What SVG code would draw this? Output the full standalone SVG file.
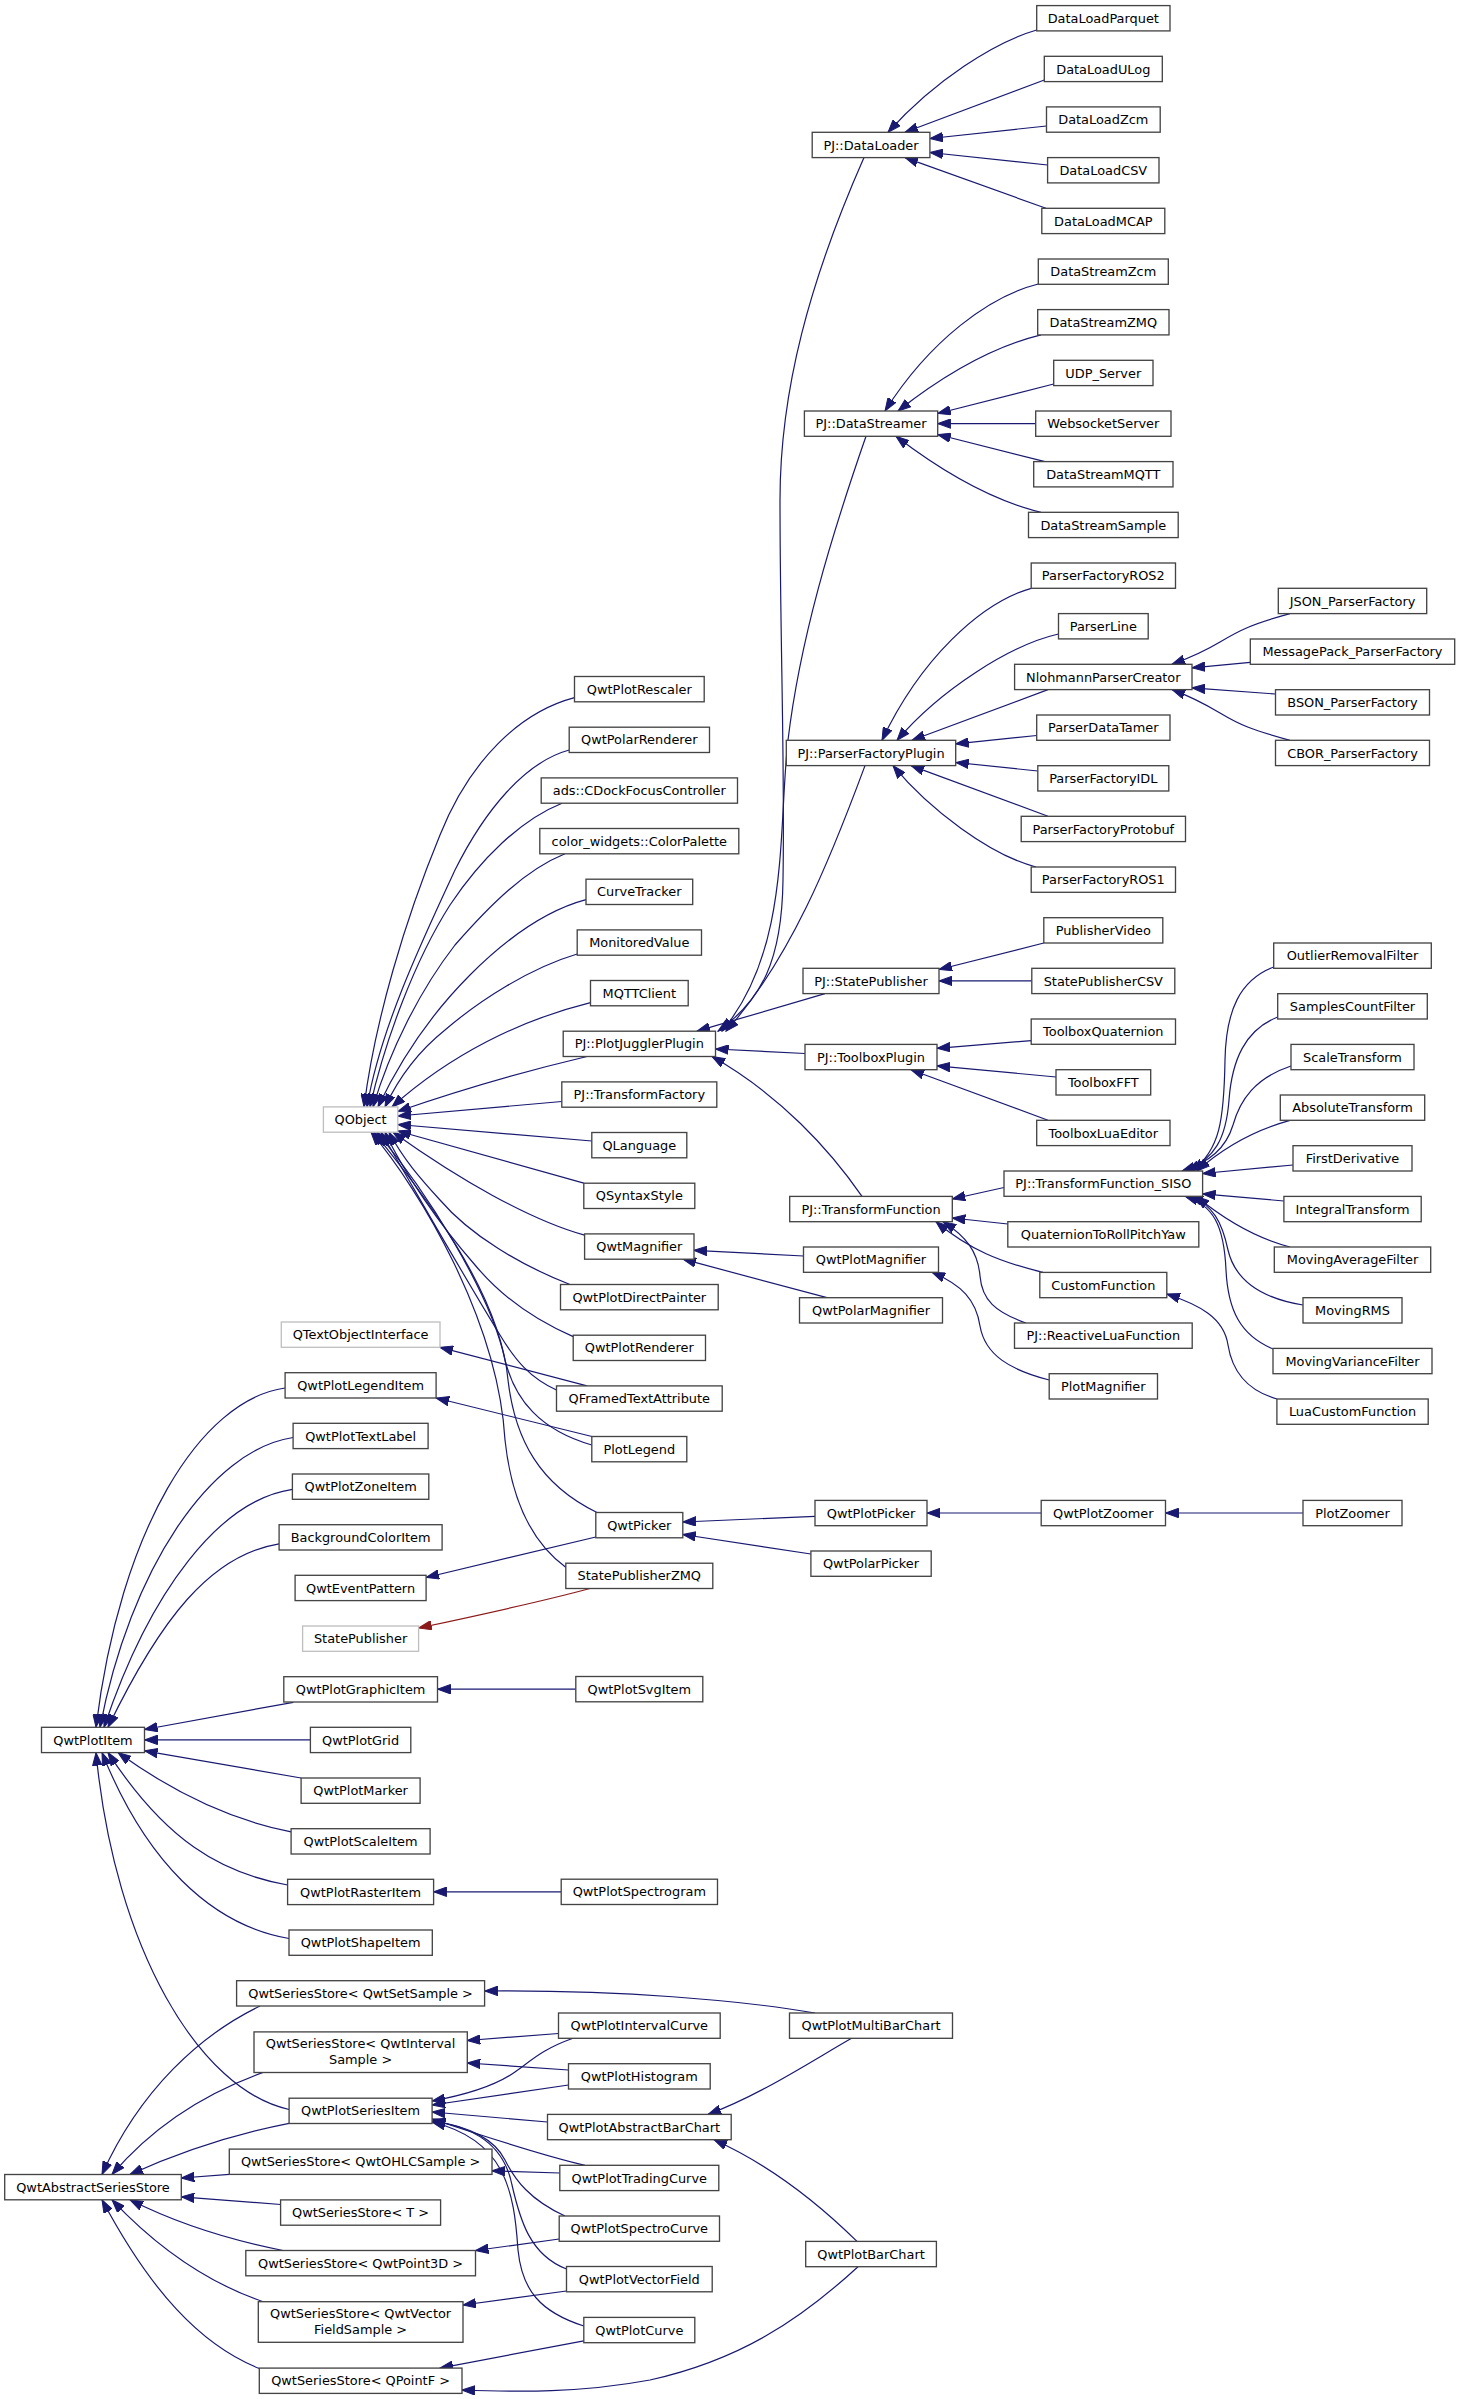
<svg xmlns="http://www.w3.org/2000/svg" width="1460" height="2399" viewBox="0 0 1460 2399">
<style>
.n rect{fill:#fff;stroke:#444;stroke-width:1.33}
.x rect{fill:#fff;stroke:#bfbfbf;stroke-width:1.33}
text{font-family:"DejaVu Sans",sans-serif;font-size:12.9px;text-anchor:middle;fill:#000}
#edges path{fill:none;stroke:#191970;stroke-width:1.2;marker-end:url(#a)}
#edges path.r{stroke:#8b1a1a;marker-end:url(#ar)}
</style>
<defs>
<marker id="a" markerUnits="userSpaceOnUse" markerWidth="14" markerHeight="10" refX="13" refY="5" orient="auto" viewBox="0 0 14 10"><path d="M0,0.3 L13,5 L0,9.7 z" fill="#191970" stroke="#191970" stroke-width="1"/></marker>
<marker id="ar" markerUnits="userSpaceOnUse" markerWidth="14" markerHeight="10" refX="13" refY="5" orient="auto" viewBox="0 0 14 10"><path d="M0,0.3 L13,5 L0,9.7 z" fill="#8b1a1a" stroke="#8b1a1a" stroke-width="1"/></marker>
</defs>
<rect width="1460" height="2399" fill="#fff"/>
<g id="edges">
<path d="M1036.7,30 C995,42 935,80 888,132.3"/>
<path d="M1044.3,80 L905,132.3"/>
<path d="M1046.5,126 L929.9,138.5"/>
<path d="M1047.6,165 L929.9,152.5"/>
<path d="M1046,208.3 L905,157.6"/>
<path d="M1038.3,284 C990,296 930,340 885,411"/>
<path d="M1041,334.9 C1000,345 950,370 898,411"/>
<path d="M1053.7,384 L937.7,413.5"/>
<path d="M1035.7,423.6 L937.7,423.6"/>
<path d="M1045,461.6 L937.7,434.5"/>
<path d="M1041,512.3 C990,500 940,470 896,436.3"/>
<path d="M1031.2,588.3 C980,603 920,660 882,740.3"/>
<path d="M1058.5,634 C1010,645 940,690 897,740.3"/>
<path d="M1048,689.6 L912,740.3"/>
<path d="M1036.7,735.5 L955.7,743.8"/>
<path d="M1037.8,771 L955.7,762.5"/>
<path d="M1048,816.3 L911,765.6"/>
<path d="M1036,867 C990,855 930,810 893,765.6"/>
<path d="M1290,613.6 C1252,624 1240,630 1220,642 C1205,651 1192,657 1172,664.3"/>
<path d="M1250.3,662.4 L1192,667.8"/>
<path d="M1275.5,694 L1192,687.8"/>
<path d="M1290,740.3 C1252,730 1240,725 1220,713 C1205,704 1192,697 1172,689.6"/>
<path d="M1043.8,943 L939,969.5"/>
<path d="M1031.8,980.9 L939,980.9"/>
<path d="M1031.2,1040.6 L937,1048.3"/>
<path d="M1056,1077 L937,1065.8"/>
<path d="M1048,1120.3 L911,1069.7"/>
<path d="M1004,1187.5 L952.3,1199"/>
<path d="M1007.8,1224 L952.3,1218"/>
<path d="M1043,1272.4 C1000,1262 970,1250 936,1221.7"/>
<path d="M1026,1323 C995,1312 982,1300 980,1276 C978,1252 966,1236 943,1221.7"/>
<path d="M1273.7,967 C1240,980 1226,1010 1225,1060 C1224,1120 1220,1150 1192,1171"/>
<path d="M1277.7,1017 C1245,1030 1232,1060 1229,1100 C1226,1140 1214,1158 1187,1171"/>
<path d="M1291,1066 C1255,1078 1240,1100 1233,1125 C1226,1148 1210,1162 1182,1171"/>
<path d="M1290,1120.3 C1255,1130 1225,1146 1197,1171"/>
<path d="M1293,1165 L1202.6,1173.5"/>
<path d="M1283.9,1201 L1202.6,1193.8"/>
<path d="M1290,1247 C1255,1238 1225,1220 1196,1196.3"/>
<path d="M1303,1305 C1260,1298 1235,1280 1228,1250 C1222,1222 1213,1205 1190,1196.3"/>
<path d="M1273,1349 C1240,1335 1228,1310 1226,1270 C1224,1225 1213,1205 1185,1196.3"/>
<path d="M1277,1399 C1245,1390 1232,1370 1228,1345 C1224,1318 1200,1305 1166.8,1294"/>
<path d="M1049.2,1380 C1010,1370 985,1355 980,1326 C976,1300 962,1285 932,1272.3"/>
<path d="M1303,1513 L1165.5,1513"/>
<path d="M1041.2,1513 L927,1513"/>
<path d="M803.5,1256 L694,1250.3"/>
<path d="M827,1297.7 L683,1259.2"/>
<path d="M815,1516.3 L682.8,1522"/>
<path d="M810.9,1554 L682.8,1534.5"/>
<path d="M852,2038 C810,2062 760,2095 708,2114.4"/>
<path d="M857,2241.4 C820,2205 770,2165 714,2139.7"/>
<path d="M561.2,1891.8 L433.6,1891.8"/>
<path d="M575.8,1689.2 L437.5,1689.2"/>
<path d="M815,2013 C740,2000 620,1990 484.6,1991"/>
<path d="M558.5,2033.5 L467.3,2040.5"/>
<path d="M568.5,2070 L467.3,2063"/>
<path d="M573,2038.3 C540,2050 530,2062 515,2072 C495,2086 465,2095 432.1,2101"/>
<path d="M568.5,2085 L432.1,2105"/>
<path d="M547.5,2122 L432.1,2112"/>
<path d="M585,2165.3 C540,2155 480,2135 432.1,2119"/>
<path d="M565,2216 C530,2200 515,2180 505,2160 C495,2140 470,2126 432.1,2121"/>
<path d="M566.5,2269 C530,2255 520,2220 512,2185 C505,2150 480,2127 432.1,2121.5"/>
<path d="M583.8,2326 C540,2312 522,2290 518,2250 C514,2190 505,2140 432.1,2122"/>
<path d="M559.8,2173 L492,2170.8"/>
<path d="M559.2,2239 L475.5,2250.5"/>
<path d="M566.5,2291 L463,2305"/>
<path d="M583.8,2340.8 L440,2368.1"/>
<path d="M858,2266.7 C800,2320 740,2360 650,2380 C580,2393 520,2392 462,2390"/>
<path d="M260,2006 C200,2035 140,2090 102,2174.5"/>
<path d="M263,2072.5 C200,2095 150,2130 112,2174.5"/>
<path d="M289.1,2123.4 C230,2135 180,2152 130,2174.5"/>
<path d="M229.3,2174.3 L181.3,2178"/>
<path d="M280.6,2204.5 L181.3,2196.8"/>
<path d="M283,2250.5 C230,2240 180,2225 130,2199.8"/>
<path d="M263,2301.7 C200,2280 150,2240 112,2199.8"/>
<path d="M259.3,2368.5 C200,2345 150,2290 102,2199.8"/>
<path d="M285.1,1388 C200,1400 120,1530 96,1727.3"/>
<path d="M293.1,1437.5 C210,1450 130,1570 100,1727.3"/>
<path d="M292.4,1489.3 C220,1500 150,1590 104,1727.3"/>
<path d="M279.1,1543.8 C210,1555 160,1620 108,1727.3"/>
<path d="M293.3,1702.3 L144.5,1729.5"/>
<path d="M310.4,1739.9 L144.5,1739.9"/>
<path d="M301.1,1778 L144.5,1750.8"/>
<path d="M291.1,1831.8 C230,1820 170,1790 118,1752.6"/>
<path d="M287.6,1885 C220,1873 165,1840 108,1752.6"/>
<path d="M289,1938.5 C210,1925 145,1860 102,1752.6"/>
<path d="M289.1,2109.5 C200,2090 115,1950 96,1752.6"/>
<path d="M574.5,697.6 C520,712 470,760 440,835 C405,920 375,1020 364,1106.9"/>
<path d="M569.2,750 C525,762 485,810 455,870 C420,945 380,1030 367,1106.9"/>
<path d="M562,803.2 C520,820 480,860 450,905 C415,960 385,1040 370,1106.9"/>
<path d="M565,853.8 C525,870 490,905 455,945 C420,990 390,1050 373,1106.9"/>
<path d="M586,899.7 C540,912 500,945 470,975 C440,1005 405,1050 378,1106.9"/>
<path d="M577.2,954 C530,968 480,1000 445,1030 C420,1050 400,1075 385,1106.9"/>
<path d="M590.5,1002.6 C520,1020 450,1055 392,1106.9"/>
<path d="M587,1056.5 C530,1070 460,1090 397.8,1111.5"/>
<path d="M561.8,1101.5 L397.8,1116"/>
<path d="M591.8,1141 L397.8,1124.5"/>
<path d="M583.8,1183.2 L397.8,1131"/>
<path d="M584.6,1235.2 C530,1220 460,1180 393,1132.2"/>
<path d="M570,1284.5 C520,1265 470,1235 440,1200 C420,1178 404,1160 389,1132.2"/>
<path d="M573.2,1336.6 C530,1318 500,1295 475,1265 C440,1225 405,1175 385,1132.2"/>
<path d="M556.5,1390 C530,1378 515,1360 500,1335 C460,1270 415,1190 381,1132.2"/>
<path d="M591.8,1445 C540,1430 515,1400 505,1360 C490,1290 425,1190 377,1132.2"/>
<path d="M597,1512.5 C540,1485 515,1440 508,1380 C500,1290 420,1190 374,1132.2"/>
<path d="M566,1567.4 C535,1545 512,1505 505,1440 C498,1320 420,1190 371,1132.2"/>
<path d="M587,1385.9 L440,1347.3"/>
<path d="M592,1436.5 L436.1,1398"/>
<path d="M595.8,1537 L426.1,1577.5"/>
<path class="r" d="M590,1588.5 C540,1602 480,1615 418.6,1628"/>
<path d="M864,157.6 C810,280 780,390 780,500 C780,640 785,760 783,880 C782,960 762,1000 718,1031.2"/>
<path d="M866,436.3 C830,540 800,640 788,740 C778,830 790,950 722,1031.2"/>
<path d="M865,765.6 C830,860 790,960 726,1031.2"/>
<path d="M825,993.6 L697,1031.2"/>
<path d="M805,1053.5 L715.5,1049"/>
<path d="M862,1196.4 C830,1150 780,1095 712,1056.5"/>
</g>
<g id="DataLoadParquet" class="n"><rect x="1036.7" y="5.6" width="133.3" height="25.3"/><text x="1103.3" y="22.8">DataLoadParquet</text></g>
<g id="DataLoadULog" class="n"><rect x="1044.3" y="56.3" width="118" height="25.3"/><text x="1103.3" y="73.5">DataLoadULog</text></g>
<g id="DataLoadZcm" class="n"><rect x="1046.5" y="106.9" width="113.7" height="25.3"/><text x="1103.3" y="124.1">DataLoadZcm</text></g>
<g id="DataLoadCSV" class="n"><rect x="1047.6" y="157.6" width="111.4" height="25.3"/><text x="1103.3" y="174.8">DataLoadCSV</text></g>
<g id="DataLoadMCAP" class="n"><rect x="1041.8" y="208.3" width="123" height="25.3"/><text x="1103.3" y="225.5">DataLoadMCAP</text></g>
<g id="DataStreamZcm" class="n"><rect x="1038.3" y="259" width="130" height="25.3"/><text x="1103.3" y="276.2">DataStreamZcm</text></g>
<g id="DataStreamZMQ" class="n"><rect x="1037.7" y="309.6" width="131.3" height="25.3"/><text x="1103.3" y="326.8">DataStreamZMQ</text></g>
<g id="UDP_Server" class="n"><rect x="1053.7" y="360.3" width="99.3" height="25.3"/><text x="1103.3" y="377.5">UDP_Server</text></g>
<g id="WebsocketServer" class="n"><rect x="1035.7" y="411" width="135.3" height="25.3"/><text x="1103.3" y="428.2">WebsocketServer</text></g>
<g id="DataStreamMQTT" class="n"><rect x="1033.7" y="461.6" width="139.3" height="25.3"/><text x="1103.3" y="478.8">DataStreamMQTT</text></g>
<g id="DataStreamSample" class="n"><rect x="1028.5" y="512.3" width="149.7" height="25.3"/><text x="1103.3" y="529.5">DataStreamSample</text></g>
<g id="ParserFactoryROS2" class="n"><rect x="1031.2" y="563" width="144.3" height="25.3"/><text x="1103.3" y="580.2">ParserFactoryROS2</text></g>
<g id="ParserLine" class="n"><rect x="1058.5" y="613.6" width="89.7" height="25.3"/><text x="1103.3" y="630.8">ParserLine</text></g>
<g id="NlohmannParserCreator" class="n"><rect x="1014.6" y="664.3" width="177.4" height="25.3"/><text x="1103.3" y="681.5">NlohmannParserCreator</text></g>
<g id="ParserDataTamer" class="n"><rect x="1036.7" y="715" width="133.3" height="25.3"/><text x="1103.3" y="732.2">ParserDataTamer</text></g>
<g id="ParserFactoryIDL" class="n"><rect x="1037.8" y="765.7" width="131" height="25.3"/><text x="1103.3" y="782.9">ParserFactoryIDL</text></g>
<g id="ParserFactoryProtobuf" class="n"><rect x="1021.2" y="816.3" width="164.3" height="25.3"/><text x="1103.3" y="833.5">ParserFactoryProtobuf</text></g>
<g id="ParserFactoryROS1" class="n"><rect x="1031.2" y="867" width="144.3" height="25.3"/><text x="1103.3" y="884.2">ParserFactoryROS1</text></g>
<g id="PublisherVideo" class="n"><rect x="1043.8" y="917.7" width="119" height="25.3"/><text x="1103.3" y="934.9">PublisherVideo</text></g>
<g id="StatePublisherCSV" class="n"><rect x="1031.8" y="968.3" width="143" height="25.3"/><text x="1103.3" y="985.5">StatePublisherCSV</text></g>
<g id="ToolboxQuaternion" class="n"><rect x="1031.2" y="1019" width="144.3" height="25.3"/><text x="1103.3" y="1036.2">ToolboxQuaternion</text></g>
<g id="ToolboxFFT" class="n"><rect x="1056" y="1069.7" width="94.7" height="25.3"/><text x="1103.3" y="1086.9">ToolboxFFT</text></g>
<g id="ToolboxLuaEditor" class="n"><rect x="1036.7" y="1120.3" width="133.3" height="25.3"/><text x="1103.3" y="1137.5">ToolboxLuaEditor</text></g>
<g id="TransformFunction_SISO" class="n"><rect x="1004" y="1171" width="198.6" height="25.3"/><text x="1103.3" y="1188.2">PJ::TransformFunction_SISO</text></g>
<g id="QuaternionToRollPitchYaw" class="n"><rect x="1007.8" y="1221.7" width="191" height="25.3"/><text x="1103.3" y="1238.9">QuaternionToRollPitchYaw</text></g>
<g id="CustomFunction" class="n"><rect x="1039.8" y="1272.4" width="127" height="25.3"/><text x="1103.3" y="1289.6">CustomFunction</text></g>
<g id="ReactiveLuaFunction" class="n"><rect x="1014.5" y="1323" width="177.7" height="25.3"/><text x="1103.3" y="1340.2">PJ::ReactiveLuaFunction</text></g>
<g id="PlotMagnifier" class="n"><rect x="1049.2" y="1373.7" width="108.3" height="25.3"/><text x="1103.3" y="1390.9">PlotMagnifier</text></g>
<g id="QwtPlotZoomer" class="n"><rect x="1041.2" y="1500.4" width="124.3" height="25.3"/><text x="1103.3" y="1517.6">QwtPlotZoomer</text></g>
<g id="JSON_ParserFactory" class="n"><rect x="1278.3" y="588.3" width="148.4" height="25.3"/><text x="1352.5" y="605.5">JSON_ParserFactory</text></g>
<g id="MessagePack_ParserFactory" class="n"><rect x="1250.3" y="639" width="204.4" height="25.3"/><text x="1352.5" y="656.2">MessagePack_ParserFactory</text></g>
<g id="BSON_ParserFactory" class="n"><rect x="1275.5" y="689.7" width="154" height="25.3"/><text x="1352.5" y="706.9">BSON_ParserFactory</text></g>
<g id="CBOR_ParserFactory" class="n"><rect x="1275.5" y="740.3" width="154" height="25.3"/><text x="1352.5" y="757.5">CBOR_ParserFactory</text></g>
<g id="OutlierRemovalFilter" class="n"><rect x="1273.7" y="943" width="157.6" height="25.3"/><text x="1352.5" y="960.2">OutlierRemovalFilter</text></g>
<g id="SamplesCountFilter" class="n"><rect x="1277.7" y="993.7" width="149.6" height="25.3"/><text x="1352.5" y="1010.9">SamplesCountFilter</text></g>
<g id="ScaleTransform" class="n"><rect x="1291" y="1044.4" width="123" height="25.3"/><text x="1352.5" y="1061.6">ScaleTransform</text></g>
<g id="AbsoluteTransform" class="n"><rect x="1280.3" y="1095" width="144.4" height="25.3"/><text x="1352.5" y="1112.2">AbsoluteTransform</text></g>
<g id="FirstDerivative" class="n"><rect x="1293" y="1145.7" width="119" height="25.3"/><text x="1352.5" y="1162.9">FirstDerivative</text></g>
<g id="IntegralTransform" class="n"><rect x="1283.9" y="1196.4" width="137.3" height="25.3"/><text x="1352.5" y="1213.6">IntegralTransform</text></g>
<g id="MovingAverageFilter" class="n"><rect x="1274.3" y="1247" width="156.4" height="25.3"/><text x="1352.5" y="1264.2">MovingAverageFilter</text></g>
<g id="MovingRMS" class="n"><rect x="1303" y="1297.7" width="99" height="25.3"/><text x="1352.5" y="1314.9">MovingRMS</text></g>
<g id="MovingVarianceFilter" class="n"><rect x="1273" y="1348.4" width="159" height="25.3"/><text x="1352.5" y="1365.6">MovingVarianceFilter</text></g>
<g id="LuaCustomFunction" class="n"><rect x="1276.9" y="1399" width="151.3" height="25.3"/><text x="1352.5" y="1416.2">LuaCustomFunction</text></g>
<g id="PlotZoomer" class="n"><rect x="1303" y="1500.4" width="99" height="25.3"/><text x="1352.5" y="1517.6">PlotZoomer</text></g>
<g id="PJ_DataLoader" class="n"><rect x="812.2" y="132.3" width="117.7" height="25.3"/><text x="871" y="149.5">PJ::DataLoader</text></g>
<g id="PJ_DataStreamer" class="n"><rect x="804.4" y="411" width="133.3" height="25.3"/><text x="871" y="428.2">PJ::DataStreamer</text></g>
<g id="PJ_ParserFactoryPlugin" class="n"><rect x="786.3" y="740.3" width="169.4" height="25.3"/><text x="871" y="757.5">PJ::ParserFactoryPlugin</text></g>
<g id="PJ_StatePublisher" class="n"><rect x="803" y="968.3" width="136" height="25.3"/><text x="871" y="985.5">PJ::StatePublisher</text></g>
<g id="PJ_ToolboxPlugin" class="n"><rect x="805" y="1044.4" width="132" height="25.3"/><text x="871" y="1061.6">PJ::ToolboxPlugin</text></g>
<g id="PJ_TransformFunction" class="n"><rect x="789.7" y="1196.4" width="162.6" height="25.3"/><text x="871" y="1213.6">PJ::TransformFunction</text></g>
<g id="QwtPlotMagnifier" class="n"><rect x="803.5" y="1247" width="135" height="25.3"/><text x="871" y="1264.2">QwtPlotMagnifier</text></g>
<g id="QwtPolarMagnifier" class="n"><rect x="799.5" y="1297.7" width="143" height="25.3"/><text x="871" y="1314.9">QwtPolarMagnifier</text></g>
<g id="QwtPlotPicker" class="n"><rect x="815" y="1500.4" width="112" height="25.3"/><text x="871" y="1517.6">QwtPlotPicker</text></g>
<g id="QwtPolarPicker" class="n"><rect x="810.9" y="1551" width="120.3" height="25.3"/><text x="871" y="1568.2">QwtPolarPicker</text></g>
<g id="QwtPlotMultiBarChart" class="n"><rect x="789.5" y="2013" width="163" height="25.3"/><text x="871" y="2030.2">QwtPlotMultiBarChart</text></g>
<g id="QwtPlotBarChart" class="n"><rect x="805.7" y="2241.4" width="130.7" height="25.3"/><text x="871" y="2258.6">QwtPlotBarChart</text></g>
<g id="QwtPlotRescaler" class="n"><rect x="574.5" y="676.5" width="129.7" height="25.3"/><text x="639.3" y="693.7">QwtPlotRescaler</text></g>
<g id="QwtPolarRenderer" class="n"><rect x="569.2" y="727.2" width="140.3" height="25.3"/><text x="639.3" y="744.4">QwtPolarRenderer</text></g>
<g id="ads_CDockFocusController" class="n"><rect x="541.2" y="777.9" width="196.3" height="25.3"/><text x="639.3" y="795.1">ads::CDockFocusController</text></g>
<g id="color_widgets_ColorPalette" class="n"><rect x="539.8" y="828.5" width="199" height="25.3"/><text x="639.3" y="845.7">color_widgets::ColorPalette</text></g>
<g id="CurveTracker" class="n"><rect x="586" y="879.2" width="106.7" height="25.3"/><text x="639.3" y="896.4">CurveTracker</text></g>
<g id="MonitoredValue" class="n"><rect x="577.2" y="929.9" width="124.3" height="25.3"/><text x="639.3" y="947.1">MonitoredValue</text></g>
<g id="MQTTClient" class="n"><rect x="590.5" y="980.5" width="97.7" height="25.3"/><text x="639.3" y="997.7">MQTTClient</text></g>
<g id="PJ_PlotJugglerPlugin" class="n"><rect x="563.2" y="1031.2" width="152.3" height="25.3"/><text x="639.3" y="1048.4">PJ::PlotJugglerPlugin</text></g>
<g id="PJ_TransformFactory" class="n"><rect x="561.8" y="1081.9" width="155" height="25.3"/><text x="639.3" y="1099.1">PJ::TransformFactory</text></g>
<g id="QLanguage" class="n"><rect x="591.8" y="1132.5" width="95" height="25.3"/><text x="639.3" y="1149.7">QLanguage</text></g>
<g id="QSyntaxStyle" class="n"><rect x="583.8" y="1183.2" width="111" height="25.3"/><text x="639.3" y="1200.4">QSyntaxStyle</text></g>
<g id="QwtMagnifier" class="n"><rect x="584.6" y="1233.9" width="109.4" height="25.3"/><text x="639.3" y="1251.1">QwtMagnifier</text></g>
<g id="QwtPlotDirectPainter" class="n"><rect x="560.5" y="1284.5" width="157.7" height="25.3"/><text x="639.3" y="1301.7">QwtPlotDirectPainter</text></g>
<g id="QwtPlotRenderer" class="n"><rect x="573.2" y="1335.2" width="132.3" height="25.3"/><text x="639.3" y="1352.4">QwtPlotRenderer</text></g>
<g id="QFramedTextAttribute" class="n"><rect x="556.5" y="1385.9" width="165.7" height="25.3"/><text x="639.3" y="1403.1">QFramedTextAttribute</text></g>
<g id="PlotLegend" class="n"><rect x="591.8" y="1436.5" width="95" height="25.3"/><text x="639.3" y="1453.7">PlotLegend</text></g>
<g id="QwtPicker" class="n"><rect x="595.8" y="1512.5" width="87" height="25.3"/><text x="639.3" y="1529.7">QwtPicker</text></g>
<g id="StatePublisherZMQ" class="n"><rect x="565.8" y="1563.2" width="147" height="25.3"/><text x="639.3" y="1580.4">StatePublisherZMQ</text></g>
<g id="QwtPlotSvgItem" class="n"><rect x="575.8" y="1676.5" width="127" height="25.3"/><text x="639.3" y="1693.7">QwtPlotSvgItem</text></g>
<g id="QwtPlotSpectrogram" class="n"><rect x="561.2" y="1879.2" width="156.3" height="25.3"/><text x="639.3" y="1896.4">QwtPlotSpectrogram</text></g>
<g id="QwtPlotIntervalCurve" class="n"><rect x="558.5" y="2013" width="161.7" height="25.3"/><text x="639.3" y="2030.2">QwtPlotIntervalCurve</text></g>
<g id="QwtPlotHistogram" class="n"><rect x="568.5" y="2063.7" width="141.7" height="25.3"/><text x="639.3" y="2080.9">QwtPlotHistogram</text></g>
<g id="QwtPlotAbstractBarChart" class="n"><rect x="547.5" y="2114.4" width="183.7" height="25.3"/><text x="639.3" y="2131.6">QwtPlotAbstractBarChart</text></g>
<g id="QwtPlotTradingCurve" class="n"><rect x="559.8" y="2165.3" width="159" height="25.3"/><text x="639.3" y="2182.5">QwtPlotTradingCurve</text></g>
<g id="QwtPlotSpectroCurve" class="n"><rect x="559.2" y="2216" width="160.3" height="25.3"/><text x="639.3" y="2233.2">QwtPlotSpectroCurve</text></g>
<g id="QwtPlotVectorField" class="n"><rect x="566.5" y="2266.5" width="145.7" height="25.3"/><text x="639.3" y="2283.7">QwtPlotVectorField</text></g>
<g id="QwtPlotCurve" class="n"><rect x="583.8" y="2317.4" width="111" height="25.3"/><text x="639.3" y="2334.6">QwtPlotCurve</text></g>
<g id="QObject" class="x"><rect x="323.4" y="1106.9" width="74.4" height="25.3"/><text x="360.6" y="1124.1">QObject</text></g>
<g id="QTextObjectInterface" class="x"><rect x="281.3" y="1322" width="158.7" height="25.3"/><text x="360.6" y="1339.2">QTextObjectInterface</text></g>
<g id="QwtPlotLegendItem" class="n"><rect x="285.1" y="1372.7" width="151" height="25.3"/><text x="360.6" y="1389.9">QwtPlotLegendItem</text></g>
<g id="QwtPlotTextLabel" class="n"><rect x="293.1" y="1423.3" width="135" height="25.3"/><text x="360.6" y="1440.5">QwtPlotTextLabel</text></g>
<g id="QwtPlotZoneItem" class="n"><rect x="292.4" y="1474" width="136.4" height="25.3"/><text x="360.6" y="1491.2">QwtPlotZoneItem</text></g>
<g id="BackgroundColorItem" class="n"><rect x="279.1" y="1524.7" width="163" height="25.3"/><text x="360.6" y="1541.9">BackgroundColorItem</text></g>
<g id="QwtEventPattern" class="n"><rect x="295.1" y="1575.3" width="131" height="25.3"/><text x="360.6" y="1592.5">QwtEventPattern</text></g>
<g id="StatePublisher" class="x"><rect x="302.6" y="1626" width="116" height="25.3"/><text x="360.6" y="1643.2">StatePublisher</text></g>
<g id="QwtPlotGraphicItem" class="n"><rect x="283.8" y="1676.7" width="153.7" height="25.3"/><text x="360.6" y="1693.9">QwtPlotGraphicItem</text></g>
<g id="QwtPlotGrid" class="n"><rect x="310.4" y="1727.3" width="100.4" height="25.3"/><text x="360.6" y="1744.5">QwtPlotGrid</text></g>
<g id="QwtPlotMarker" class="n"><rect x="301.1" y="1778" width="119" height="25.3"/><text x="360.6" y="1795.2">QwtPlotMarker</text></g>
<g id="QwtPlotScaleItem" class="n"><rect x="291.1" y="1828.7" width="139" height="25.3"/><text x="360.6" y="1845.9">QwtPlotScaleItem</text></g>
<g id="QwtPlotRasterItem" class="n"><rect x="287.6" y="1879.3" width="146" height="25.3"/><text x="360.6" y="1896.5">QwtPlotRasterItem</text></g>
<g id="QwtPlotShapeItem" class="n"><rect x="289" y="1930" width="143.3" height="25.3"/><text x="360.6" y="1947.2">QwtPlotShapeItem</text></g>
<g id="QwtSeriesStore_QwtSetSample" class="n"><rect x="236.6" y="1980.7" width="248" height="25.3"/><text x="360.6" y="1997.9">QwtSeriesStore&lt; QwtSetSample &gt;</text></g>
<g id="QwtSeriesStore_QwtIntervalSample" class="n"><rect x="254" y="2031.9" width="213.3" height="40.6"/><text x="360.6" y="2048.4">QwtSeriesStore&lt; QwtInterval</text><text x="360.6" y="2063.7">Sample &gt;</text></g>
<g id="QwtPlotSeriesItem" class="n"><rect x="289.1" y="2098.2" width="143" height="25.3"/><text x="360.6" y="2115.4">QwtPlotSeriesItem</text></g>
<g id="QwtSeriesStore_QwtOHLCSample" class="n"><rect x="229.3" y="2149.1" width="262.7" height="25.3"/><text x="360.6" y="2166.3">QwtSeriesStore&lt; QwtOHLCSample &gt;</text></g>
<g id="QwtSeriesStore_T" class="n"><rect x="280.6" y="2199.9" width="160" height="25.3"/><text x="360.6" y="2217.1">QwtSeriesStore&lt; T &gt;</text></g>
<g id="QwtSeriesStore_QwtPoint3D" class="n"><rect x="245.8" y="2250.5" width="229.7" height="25.3"/><text x="360.6" y="2267.7">QwtSeriesStore&lt; QwtPoint3D &gt;</text></g>
<g id="QwtSeriesStore_QwtVectorFieldSample" class="n"><rect x="258.3" y="2301.7" width="204.7" height="40.6"/><text x="360.6" y="2318.2">QwtSeriesStore&lt; QwtVector</text><text x="360.6" y="2333.5">FieldSample &gt;</text></g>
<g id="QwtSeriesStore_QPointF" class="n"><rect x="259.3" y="2368.1" width="202.7" height="25.3"/><text x="360.6" y="2385.3">QwtSeriesStore&lt; QPointF &gt;</text></g>
<g id="QwtPlotItem" class="n"><rect x="41.5" y="1727.3" width="103" height="25.3"/><text x="93" y="1744.5">QwtPlotItem</text></g>
<g id="QwtAbstractSeriesStore" class="n"><rect x="4.7" y="2174.5" width="176.6" height="25.3"/><text x="93" y="2191.7">QwtAbstractSeriesStore</text></g>
</svg>
